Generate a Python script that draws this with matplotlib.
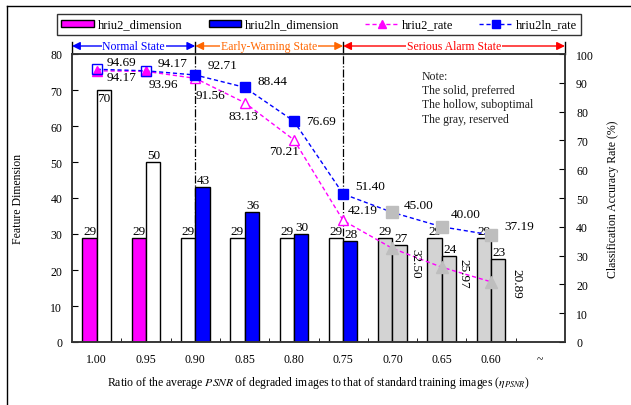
import numpy as np
import matplotlib
matplotlib.use("Agg")
import matplotlib.pyplot as plt
from matplotlib.patches import Patch
from matplotlib.lines import Line2D

plt.rcParams['font.family'] = ['Liberation Serif', 'DejaVu Serif']
plt.rcParams['mathtext.fontset'] = 'stix'

# datos
ratio_labels = ['1.00', '0.95', '0.90', '0.85', '0.80', '0.75', '0.70', '0.65', '0.60', '~']
hriu2_dim = [29, 29, 29, 29, 29, 29, 29, 29, 29]
hriu2ln_dim = [70, 50, 43, 36, 30, 28, 27, 24, 23]
hriu2_rate = [94.17, 93.96, 91.56, 83.13, 70.21, 42.19, 32.50, 25.97, 20.89]
hriu2ln_rate = [94.69, 94.17, 92.71, 88.44, 76.69, 51.40, 45.00, 40.00, 37.19]
# solid = preferred, hollow = suboptimal, gray = reserved
hriu2_kind = ['solid', 'solid', 'hollow', 'hollow', 'hollow', 'hollow', 'gray', 'gray', 'gray']
hriu2ln_kind = ['hollow', 'hollow', 'solid', 'solid', 'solid', 'solid', 'gray', 'gray', 'gray']
states = ['Normal State', 'Early-Warning State', 'Serious Alarm State']
state_bounds = [-0.5, 2, 5, 9.5]

GRAY = '#D3D3D3'
MGRAY = '#BEBEBE'
MAG = '#FF00FF'
BLUE = '#0000FF'
state_colors = ['#0000FF', '#FF6600', '#FF0000']

# desplazamientos de las etiquetas (pixeles)
off_ln = [(25, 7), (27, 8), (27, 10), (28, 6), (27, 0), (27, 8), (26, 7), (24, 13), (28, 9)]
off_2 = [(25, -6), (17, -13), (15, -17), (-1, -13), (-10, -11), (20, 10), (23, -14), (22, -6), (25, -1)]


def bar_color(kind, base):
    return {'solid': base, 'hollow': 'white', 'gray': GRAY}[kind]


def main():
    fig = plt.figure(figsize=(6.31, 4.06), dpi=100)
    ax = fig.add_axes([72 / 631, 1 - 343 / 406, 493 / 631, 288 / 406])
    ax2 = ax.twinx()

    x = np.arange(len(hriu2_dim))
    w = 0.29

    # linea punto-raya en 0.90 y 0.75
    for xb in state_bounds[1:3]:
        ax.plot([xb, xb], [0, 80], color='black', ls='-.', lw=0.9, zorder=0.5)

    ax.bar(x - w / 2, hriu2_dim, w, color=[bar_color(k, MAG) for k in hriu2_kind],
           edgecolor='black', lw=1, zorder=1)
    ax.bar(x + w / 2, hriu2ln_dim, w, color=[bar_color(k, BLUE) for k in hriu2ln_kind],
           edgecolor='black', lw=1, zorder=1)

    for i in x:
        ax.annotate(str(hriu2_dim[i]), (x[i] - w / 2, hriu2_dim[i]), xytext=(0, 1),
                    textcoords='offset pixels', ha='center', va='bottom', fontsize=9.5)
        if hriu2ln_dim[i] > 60:
            ax.annotate(str(hriu2ln_dim[i]), (x[i] + w / 2, hriu2ln_dim[i]), xytext=(0, -2),
                        textcoords='offset pixels', ha='center', va='top', fontsize=9.5)
        else:
            ax.annotate(str(hriu2ln_dim[i]), (x[i] + w / 2, hriu2ln_dim[i]), xytext=(1, 1),
                        textcoords='offset pixels', ha='center', va='bottom', fontsize=9.5)

    # curvas de tasa
    ax2.plot(x, hriu2_rate, color=MAG, ls=(0, (3, 2)), lw=1, zorder=2)
    ax2.plot(x, hriu2ln_rate, color=BLUE, ls=(0, (3, 2)), lw=1, zorder=2)
    for i in x:
        k = hriu2_kind[i]
        fc = {'solid': MAG, 'hollow': 'white', 'gray': MGRAY}[k]
        ec = MGRAY if k == 'gray' else MAG
        ax2.plot(x[i], hriu2_rate[i], marker='^', ms=8 if k == 'gray' else 7,
                 mfc=fc, mec=ec, mew=1, zorder=3)
    for i in x:
        k = hriu2ln_kind[i]
        fc = {'solid': BLUE, 'hollow': 'none', 'gray': MGRAY}[k]
        ec = MGRAY if k == 'gray' else BLUE
        ax2.plot(x[i], hriu2ln_rate[i], marker='s', ms=8 if k == 'gray' else 6.5,
                 mfc=fc, mec=ec, mew=1, zorder=4)

    for i in x:
        ax2.annotate(f'{hriu2ln_rate[i]:.2f}', (x[i], hriu2ln_rate[i]), xytext=off_ln[i],
                     textcoords='offset pixels', ha='center', va='center', fontsize=9.5, zorder=5)
        rot = -90 if hriu2_kind[i] == 'gray' else 0
        ax2.annotate(f'{hriu2_rate[i]:.2f}', (x[i], hriu2_rate[i]), xytext=off_2[i],
                     textcoords='offset pixels', ha='center', va='center', fontsize=9.5,
                     rotation=rot, zorder=5)

    # flechas de estado
    tr = ax.get_xaxis_transform()
    ya = (343 - 47) / 288
    for j, name in enumerate(states):
        x0, x1 = state_bounds[j], state_bounds[j + 1]
        ax.annotate('', xy=(x1, ya), xytext=(x0, ya), xycoords=tr, annotation_clip=False,
                    arrowprops=dict(arrowstyle='<|-|>', color=state_colors[j], lw=1,
                                    shrinkA=0, shrinkB=0, mutation_scale=12))
        ax.text((x0 + x1) / 2, ya, name, transform=tr, ha='center', va='center',
                color=state_colors[j], fontsize=8.5,
                bbox=dict(facecolor='white', edgecolor='none', pad=0.5))
    for xb in state_bounds:
        ax.plot([xb, xb], [1.0, 1.042], transform=tr, color='black', lw=1, clip_on=False)

    ax.text(0.71, 0.945, 'Note:\nThe solid, preferred\nThe hollow, suboptimal\nThe gray, reserved',
            transform=ax.transAxes, ha='left', va='top', fontsize=8.5, color='#222222',
            linespacing=1.25)

    # ejes
    ax.set_xlim(-0.5, 9.5)
    ax.set_ylim(0, 80)
    ax2.set_ylim(0, 100)
    ax.set_xticks(np.arange(len(ratio_labels)))
    ax.set_xticklabels(ratio_labels)
    ax.set_xticks(np.arange(0.5, 9.5, 1), minor=True)
    ax.tick_params(axis='x', which='major', length=0, pad=8, labelsize=8.5)
    ax.tick_params(axis='x', which='minor', direction='in', length=3)
    ax.set_yticks(np.arange(0, 81, 10))
    ax.tick_params(axis='y', direction='in', length=4, pad=7, labelsize=8.5)
    ax2.set_yticks(np.arange(0, 101, 10))
    ax2.tick_params(axis='y', direction='in', length=4, pad=8, labelsize=8.5)
    for a in (ax, ax2):
        for s in a.spines.values():
            s.set_linewidth(1.1)
            s.set_color('#333333')

    ax.set_xlabel(r'Ratio of the average $\mathit{PSNR}$ of degraded images to that of '
                  r'standard training images ($\mathit{\eta}_{PSNR}$)', fontsize=8.5)
    ax.xaxis.set_label_coords(0.5, (343 - 383) / 288)
    ax.xaxis.label.set_va('center')
    ax.set_ylabel('Feature Dimension', fontsize=8.5)
    ax.yaxis.set_label_coords((18 - 72) / 493, 0.5)
    ax.yaxis.label.set_va('center')
    ax2.set_ylabel('Classification Accuracy Rate (%)', fontsize=8.5)
    ax2.yaxis.set_label_coords((613 - 72) / 493, 0.5)
    ax2.yaxis.label.set_va('center')

    handles = [
        Patch(facecolor=MAG, edgecolor='black', label='hriu2_dimension'),
        Patch(facecolor=BLUE, edgecolor='black', label='hriu2ln_dimension'),
        Line2D([], [], color=MAG, ls=(0, (3, 2)), lw=1, marker='^', ms=6, label='hriu2_rate'),
        Line2D([], [], color=BLUE, ls=(0, (3, 2)), lw=1, marker='s', ms=5.5, label='hriu2ln_rate'),
    ]
    leg = fig.legend(handles=handles, loc='lower left', ncol=4, mode='expand',
                     bbox_to_anchor=(57 / 631, 1 - 36 / 406, 524 / 631, 21 / 406),
                     borderaxespad=0, fontsize=9, frameon=True, fancybox=False,
                     edgecolor='black', handlelength=2.6, handleheight=0.5,
                     borderpad=0.35, handletextpad=0.3, columnspacing=1.0)
    leg.get_frame().set_linewidth(1)

    # marco exterior
    fig.add_artist(Line2D([7 / 631, 7 / 631], [0, 1 - 7 / 406], transform=fig.transFigure,
                          color='black', lw=1))
    fig.add_artist(Line2D([7 / 631, 1], [1 - 7 / 406, 1 - 7 / 406], transform=fig.transFigure,
                          color='black', lw=1))

    fig.savefig('out.png', dpi=100)


if __name__ == "__main__":
    main()
